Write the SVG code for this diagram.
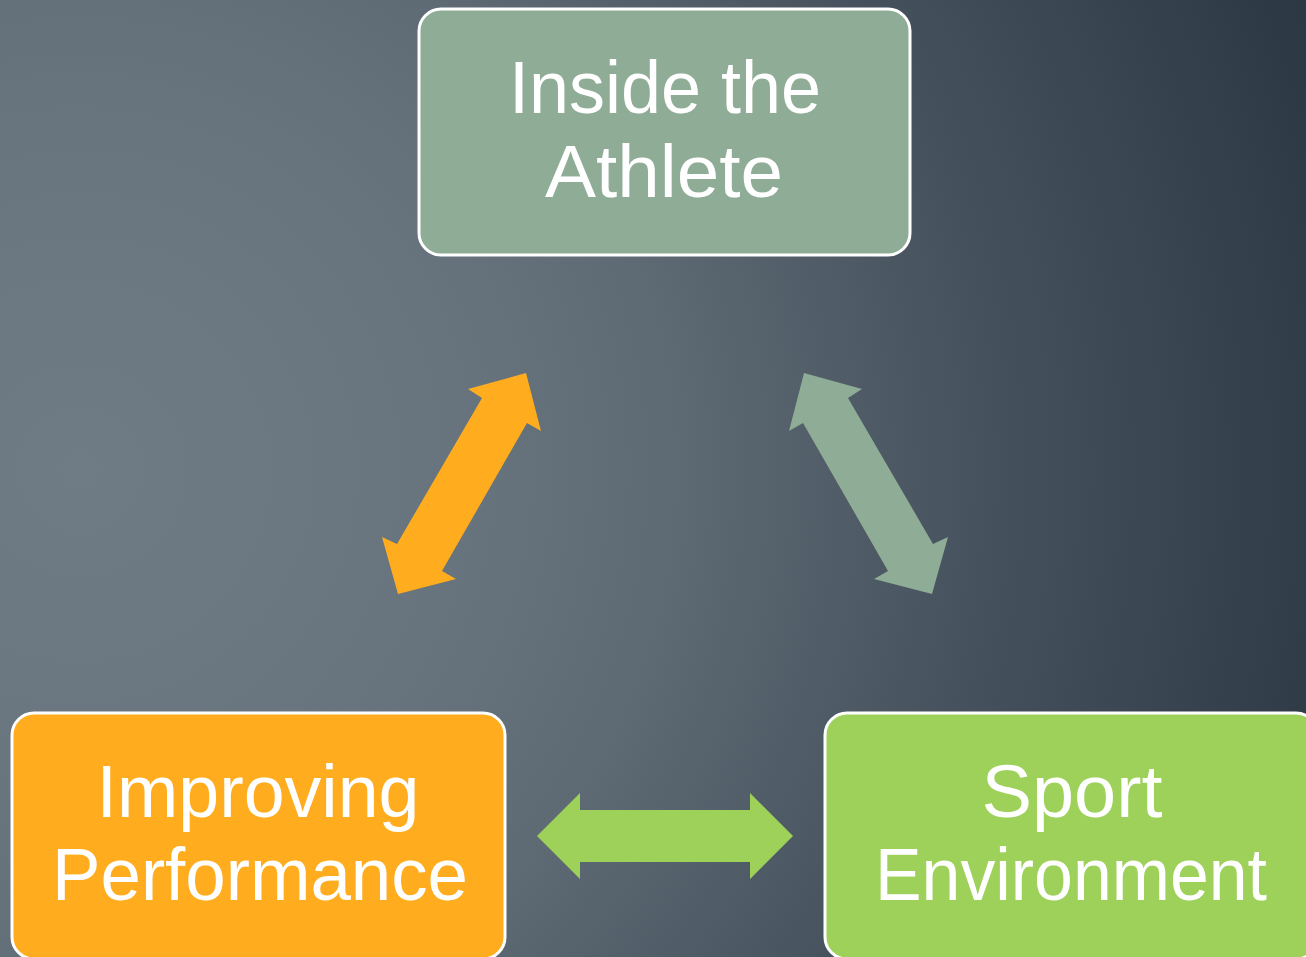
<svg xmlns="http://www.w3.org/2000/svg" width="1306" height="957" viewBox="0 0 1306 957">
<defs>
<radialGradient id="bg" gradientUnits="userSpaceOnUse" cx="80" cy="470" r="1300">
<stop offset="0" stop-color="#6f7c85"/>
<stop offset="0.3" stop-color="#67737d"/>
<stop offset="0.45" stop-color="#5e6a74"/>
<stop offset="0.7" stop-color="#45515c"/>
<stop offset="1" stop-color="#2c3844"/>
</radialGradient>
</defs>
<style>
.box{stroke:#ffffff;stroke-width:3}
.lbl{font-family:"Liberation Sans","DejaVu Sans",sans-serif;font-size:74px;fill:#ffffff;text-anchor:middle}
</style>
<rect x="0" y="0" width="1306" height="957" fill="url(#bg)"/>
<g id="connectors">
<polygon points="526,373 541,431 527,423 442,571 456,579 398,594 382,537 397,544 482,398 468,389" fill="#ffad1f"/>
<polygon points="804,373 862,389 848,398 933,544 948,537 932,594 874,579 888,571 803,423 789,431" fill="#8fac96"/>
<polygon points="537,836 580,793 580,810 750,810 750,793 793,836 750,879 750,862 580,862 580,879" fill="#9dd15a"/>
</g>
<g id="node-athlete">
<rect class="box" x="419" y="9" width="491" height="246" rx="22" fill="#8fac96"/>
<text class="lbl" x="665" y="113" textLength="312" lengthAdjust="spacingAndGlyphs">Inside the</text>
<text class="lbl" x="664" y="197" textLength="238" lengthAdjust="spacingAndGlyphs">Athlete</text>
</g>
<g id="node-performance">
<rect class="box" x="12" y="713" width="493" height="246" rx="22" fill="#ffad1f"/>
<text class="lbl" x="258" y="817" textLength="323" lengthAdjust="spacingAndGlyphs">Improving</text>
<text class="lbl" x="260" y="900" textLength="416" lengthAdjust="spacingAndGlyphs">Performance</text>
</g>
<g id="node-environment">
<rect class="box" x="825" y="713" width="493" height="246" rx="22" fill="#9dd15a"/>
<text class="lbl" x="1072" y="817" textLength="181" lengthAdjust="spacingAndGlyphs">Sport</text>
<text class="lbl" x="1071" y="900" textLength="392" lengthAdjust="spacingAndGlyphs">Environment</text>
</g>
</svg>
